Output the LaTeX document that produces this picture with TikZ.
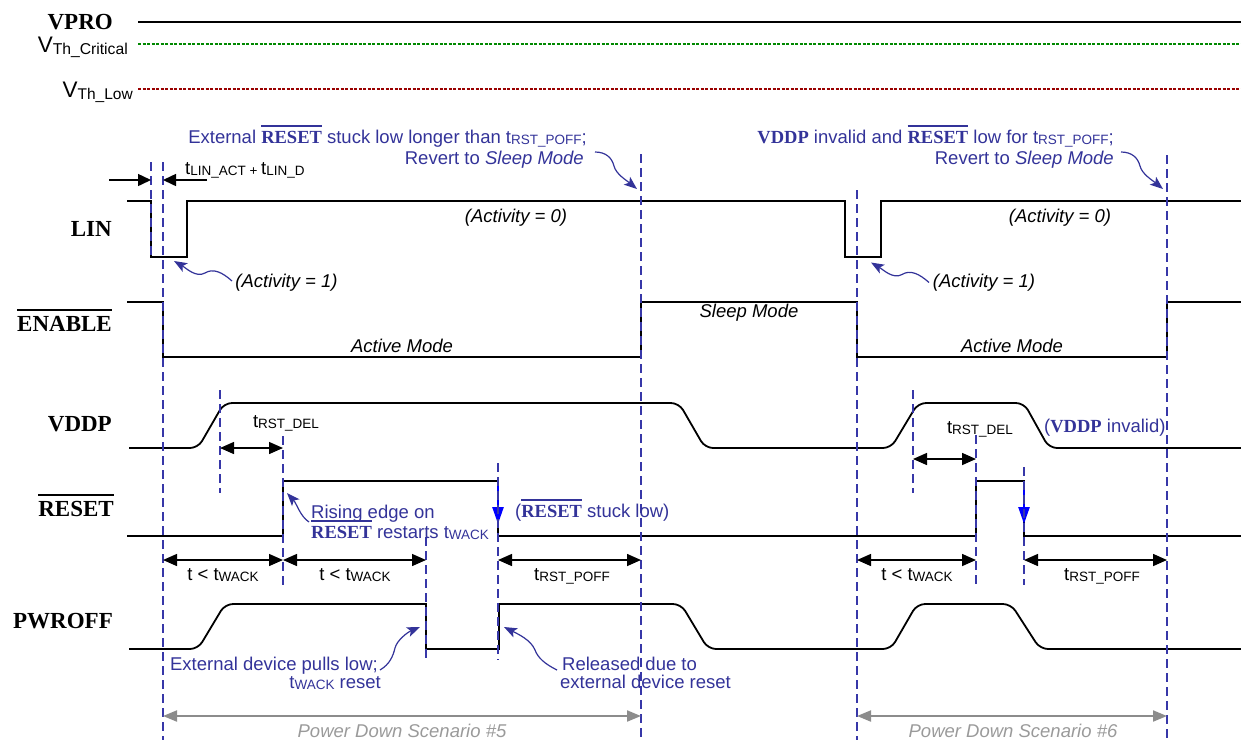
\documentclass[tikz,border=0pt]{standalone}
\usepackage{fontspec}
\setmainfont{Liberation Sans}
\newfontfamily\timesfont{Liberation Serif}
\usetikzlibrary{arrows.meta}
\definecolor{annblue}{HTML}{333399}
\definecolor{dashblue}{HTML}{3737A8}
\definecolor{thgreen}{HTML}{008800}
\definecolor{thred}{HTML}{990000}
\definecolor{pdgray}{HTML}{8C8C8C}
\definecolor{pdtext}{HTML}{9A9A9A}
\newcommand\sbs[1]{\raisebox{-1.8pt}{\fontsize{13.5}{14}\selectfont #1}}
\newcommand\ovl[1]{\vbox{\hrule height .07em\kern .22em\hbox{#1}}}
\newcommand\bser[1]{{\timesfont\bfseries #1}}
\begin{document}
\begin{tikzpicture}[x=1pt,y=-1pt,
  sig/.style={line width=1.8pt, line join=miter},
  marker/.style={dashblue, line width=1.8pt, dash pattern=on 9pt off 5pt},
  dim/.style={line width=1.5pt, {Triangle[length=14pt,width=12pt]}-{Triangle[length=14pt,width=12pt]}},
  onedim/.style={line width=1.5pt, -{Triangle[length=13pt,width=12pt]}},
  txt/.style={inner sep=0, font=\fontsize{18.5}{21}\selectfont},
  itx/.style={inner sep=0, font=\fontsize{18.5}{21}\selectfont\itshape},
  ann/.style={annblue, inner sep=0, font=\fontsize{18.5}{21}\selectfont},
  curl/.style={annblue, line width=1.2pt, -{Stealth[length=13pt,width=10pt,inset=3pt]}},
  lbl/.style={anchor=base east, inner sep=0, font=\timesfont\bfseries\fontsize{23}{23}\selectfont},
  pd/.style={pdgray, line width=2pt, {Triangle[length=14pt,width=11pt]}-{Triangle[length=14pt,width=11pt]}},
  pdt/.style={pdtext, inner sep=0, font=\fontsize{18.5}{21}\selectfont\itshape},
  fall/.style={blue, line width=2.5pt, -{Triangle[length=17pt,width=11pt]}},
]
\useasboundingbox (0,0) rectangle (1241,740);

% threshold lines
\draw[line width=2pt] (138,22) -- (1241,22);
\draw[thgreen, line width=2.5pt, dash pattern=on 3pt off 1.5pt] (138,44) -- (1241,44);
\draw[thred, line width=2.5pt, dash pattern=on 3pt off 1.5pt] (138,89) -- (1241,89);

% labels
\node[lbl] (lvpro) at (113,29) {VPRO};
\node[anchor=base east, inner sep=0, font=\fontsize{22.5}{23}\selectfont] (lcrit) at (128,52) {V\raisebox{-2.3pt}{\fontsize{15.7}{16}\selectfont Th\_Critical}};
\node[anchor=base east, inner sep=0, font=\fontsize{22.5}{23}\selectfont] (llow) at (133,97) {V\raisebox{-2.3pt}{\fontsize{15.5}{16}\selectfont Th\_Low}};
\node[lbl] (llin) at (112,236) {LIN};
\node[lbl] (lena) at (112,331) {\ovl{ENABLE}};
\node[lbl] (lvddp) at (112,431.5) {VDDP};
\node[lbl] (lrst) at (114,516) {\ovl{RESET}};
\node[lbl] (lpwr) at (113,628) {PWROFF};

% signals
\draw[sig] (127,201) -- (151,201) -- (151,257) -- (187,257) -- (187,201) -- (845,201) -- (845,257) -- (881,257) -- (881,201) -- (1241,201);
\draw[sig] (127,302) -- (163,302) -- (163,357) -- (641,357) -- (641,302) -- (857,302) -- (857,357) -- (1167,357) -- (1167,302) -- (1241,302);
\draw[sig, rounded corners=8pt] (129,448) -- (198,448) -- (224,403) -- (679,403) -- (705,448) -- (891,448) -- (918,403) -- (1024,403) -- (1049,448) -- (1241,448);
\draw[sig] (127,536) -- (283,536) -- (283,481) -- (498,481) -- (498,536) -- (976,536) -- (976,481) -- (1024,481) -- (1024,536) -- (1241,536);
\draw[sig, rounded corners=8pt] (129,649) -- (198,649) -- (225,604) -- (400,604);
\draw[sig] (400,604) -- (426,604) -- (426,649) -- (499,649) -- (499,604) -- (560,604);
\draw[sig, rounded corners=8pt] (560,604) -- (681,604) -- (708,649) -- (891,649) -- (917,604) -- (1011,604) -- (1040,649) -- (1241,649);

% falling-edge arrows on RESET
\coordinate (fa1) at (498,481); \coordinate (fa1e) at (498,524);
\coordinate (fa2) at (1024,481); \coordinate (fa2e) at (1024,524);
\draw[fall] (fa1) -- (fa1e);
\draw[fall] (fa2) -- (fa2e);

% dashed markers
\draw[marker] (151,162) -- (151,257);
\draw[marker] (163,162) -- (163,740);
\draw[marker] (220,390) -- (220,493);
\draw[marker] (283,436) -- (283,585);
\draw[marker] (426,537) -- (426,660);
\draw[marker] (498,463) -- (498,660);
\draw[marker] (641,154) -- (641,740);
\draw[marker] (857,190) -- (857,740);
\draw[marker] (913,390) -- (913,493);
\draw[marker] (976,435) -- (976,585);
\draw[marker] (1024,467) -- (1024,585);
\draw[marker] (1167,155) -- (1167,740);

% dimension arrows
\coordinate (la) at (109,180); \coordinate (lb) at (151,180);
\coordinate (lc) at (207,180); \coordinate (ld) at (163,180);
\draw[onedim] (la) -- (lb);
\draw[onedim] (lc) -- (ld);
\coordinate (d1a) at (220,448); \coordinate (d1b) at (283,448);
\coordinate (d2a) at (913,459); \coordinate (d2b) at (976,459);
\draw[dim] (d1a) -- (d1b);
\draw[dim] (d2a) -- (d2b);
\coordinate (b1) at (163,560); \coordinate (b2) at (283,560); \coordinate (b3) at (426,560);
\coordinate (b4) at (498,560); \coordinate (b5) at (641,560);
\coordinate (b6) at (857,560); \coordinate (b7) at (976,560);
\coordinate (b8) at (1024,560); \coordinate (b9) at (1167,560);
\draw[dim] (b1) -- (b2);
\draw[dim] (b2) -- (b3);
\draw[dim] (b4) -- (b5);
\draw[dim] (b6) -- (b7);
\draw[dim] (b8) -- (b9);

% timing texts
\node[txt, anchor=base west] (tlin) at (185,174) {t\sbs{LIN\_ACT + }t\sbs{LIN\_D}};
\node[txt, anchor=base] (tdel1) at (286,427) {t\sbs{RST\_DEL}};
\node[txt, anchor=base] (tdel2) at (980,433) {t\sbs{RST\_DEL}};
\node[txt, anchor=base] (tw1) at (223,580) {t < t\sbs{WACK}};
\node[txt, anchor=base] (tw2) at (355,580) {t < t\sbs{WACK}};
\node[txt, anchor=base] (tp1) at (572,580) {t\sbs{RST\_POFF}};
\node[txt, anchor=base] (tw3) at (917,580) {t < t\sbs{WACK}};
\node[txt, anchor=base] (tp2) at (1102,580) {t\sbs{RST\_POFF}};

% italic state texts
\node[itx] (act0a) at (516,218) {(Activity = 0)};
\node[itx] (act0b) at (1060,218) {(Activity = 0)};
\node[itx] (act1a) at (286.5,283) {(Activity = 1)};
\node[itx] (act1b) at (984,283) {(Activity = 1)};
\node[itx] (am1) at (402,346) {Active Mode};
\node[itx] (sm) at (749,313) {Sleep Mode};
\node[itx] (am2) at (1012,346) {Active Mode};

% annotations
\node[ann, anchor=base east] (n1a) at (587,143) {External \ovl{\bser{RESET}} stuck low longer than t\sbs{RST\_POFF};};
\node[ann, anchor=base east] (n1b) at (584,164) {Revert to \textit{Sleep Mode}};
\node[ann, anchor=base east] (n2a) at (1114,143) {\bser{VDDP} invalid and \ovl{\bser{RESET}} low for t\sbs{RST\_POFF};};
\node[ann, anchor=base east] (n2b) at (1114,164) {Revert to \textit{Sleep Mode}};
\node[ann, anchor=base west] (n3a) at (311,518) {Rising edge on};
\node[ann, anchor=base west] (n3b) at (311,538) {\ovl{\bser{RESET}} restarts t\sbs{WACK}};
\node[ann, anchor=base west] (n4) at (515,517) {(\ovl{\bser{RESET}} stuck low)};
\node[ann, anchor=base west] (n5) at (1044,432) {(\bser{VDDP} invalid)};
\node[ann, anchor=base east] (n6a) at (378,670) {External device pulls low;};
\node[ann, anchor=base east] (n6b) at (381,688) {t\sbs{WACK} reset};
\node[ann, anchor=base west] (n7a) at (562,670) {Released due to};
\node[ann, anchor=base west] (n7b) at (560,688) {external device reset};

% curly pointer arrows
\coordinate (c1s) at (595,152); \coordinate (c1e) at (637,189);
\draw[curl] (c1s) .. controls (606,152) and (612,158) .. (614,166) .. controls (616,174) and (626,180) .. (c1e);
\coordinate (c4s) at (1121,152); \coordinate (c4e) at (1163,189);
\draw[curl] (c4s) .. controls (1132,152) and (1138,158) .. (1140,166) .. controls (1142,174) and (1152,180) .. (c4e);
\coordinate (c2s) at (232,281); \coordinate (c2e) at (174,261);
\draw[curl] (c2s) .. controls (222,272) and (213,268) .. (205,273) .. controls (196,278) and (186,268) .. (c2e);
\coordinate (c3s) at (929,282.5); \coordinate (c3e) at (871,262.5);
\draw[curl] (c3s) .. controls (919,273.5) and (910,269.5) .. (902,274.5) .. controls (893,279.5) and (883,269.5) .. (c3e);
\coordinate (c5s) at (309,522); \coordinate (c5e) at (287,493);
\draw[curl] (c5s) .. controls (300,516) and (297,504) .. (c5e);
\coordinate (c6s) at (380,670); \coordinate (c6e) at (420,627);
\draw[curl] (c6s) .. controls (390,664) and (393,656) .. (395,648) .. controls (397,640) and (408,632) .. (c6e);
\coordinate (c7s) at (557,670); \coordinate (c7e) at (504,627);
\draw[curl] (c7s) .. controls (545,664) and (538,658) .. (535,650) .. controls (531,640) and (518,634) .. (c7e);

% power down scenarios
\coordinate (p1a) at (163,716); \coordinate (p1b) at (641,716);
\coordinate (p2a) at (857,716); \coordinate (p2b) at (1167,716);
\draw[pd] (p1a) -- (p1b);
\draw[pd] (p2a) -- (p2b);
\node[pdt] (pd5) at (402,731) {Power Down Scenario \#5};
\node[pdt] (pd6) at (1013,731) {Power Down Scenario \#6};
\end{tikzpicture}
\end{document}
